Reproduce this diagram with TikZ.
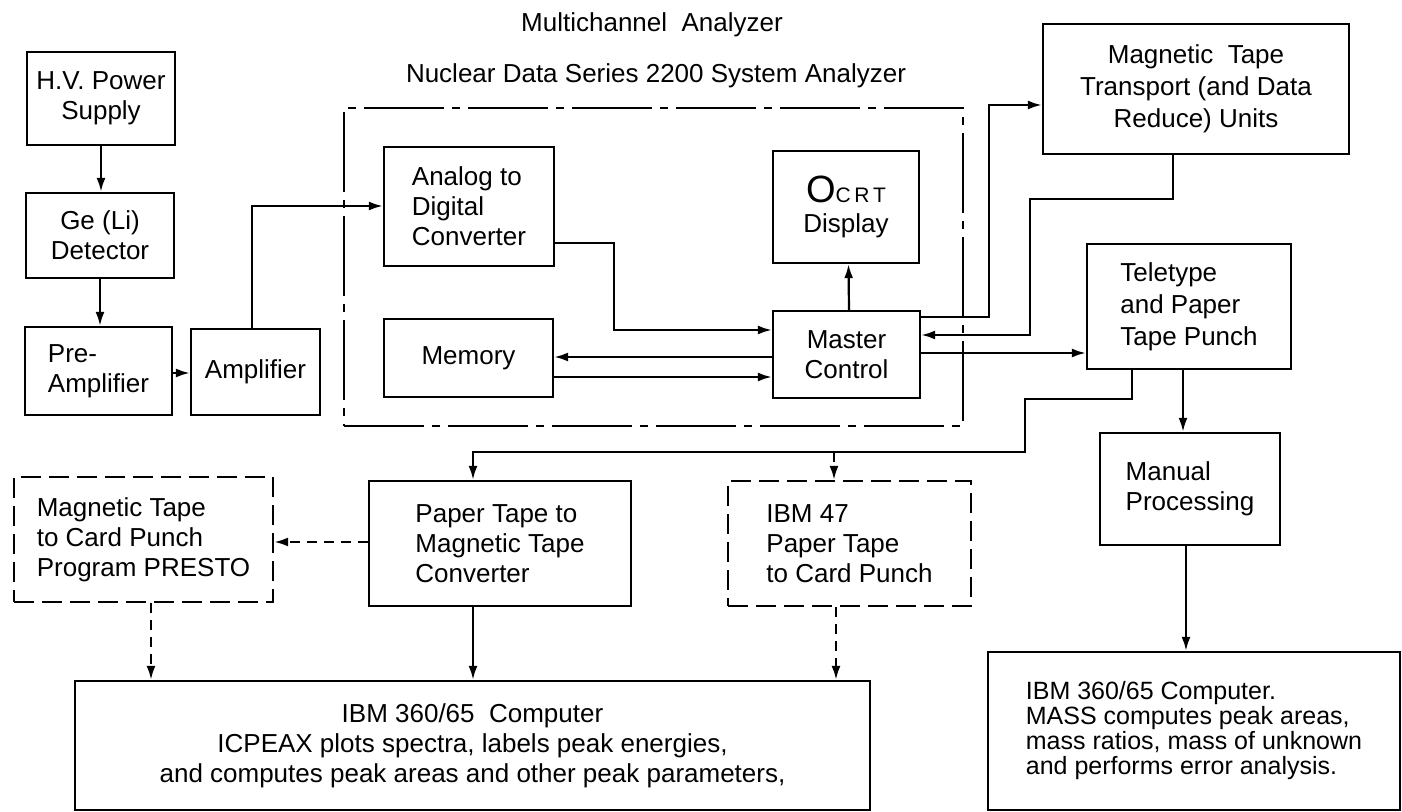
\documentclass[tikz,border=0pt]{standalone}
\usepackage{fontspec}
\setmainfont{Liberation Sans}
\usetikzlibrary{arrows.meta,calc}

\tikzset{
  blk/.style={draw, line width=1.2pt, align=center, inner sep=2pt},
  dbox/.style={blk, dash pattern=on 10pt off 4pt},
  sysframe/.style={draw, line width=1.2pt, dash pattern=on 40pt off 4pt on 4pt off 4pt},
  arr/.style={line width=1.1pt, -{Latex[length=7pt,width=4.5pt]}},
  darr/.style={arr, dash pattern=on 5pt off 3.5pt},
}

\begin{document}
\begin{tikzpicture}[x=0.5pt, y=-0.5pt, font=\fontsize{13}{15}\selectfont]
    \useasboundingbox (0,0) rectangle (1402,812);

    % Titles
    \node (title1) at (652,25) {Multichannel\ \ Analyzer};
    \node (title2) at (656,76) {Nuclear Data Series 2200 System Analyzer};

    % Detector chain
    \node[blk, minimum width=74pt, minimum height=46.5pt] (hv) at (101,98.5) {H.V. Power\\Supply};
    \node[blk, minimum width=74pt, minimum height=42.5pt] (ge) at (100,235.5) {Ge (Li)\\Detector};
    \node[blk, align=left, minimum width=73.5pt, minimum height=44pt] (pre) at (98.5,371) {Pre-\\Amplifier};
    \node[blk, minimum width=64.5pt, minimum height=43pt] (amp) at (255.5,372) {Amplifier};

    % System analyzer
    \node[sysframe, minimum width=309.5pt, minimum height=159pt] (sys) at (653.5,267) {};
    \node[blk, align=left, minimum width=85pt, minimum height=59.5pt] (adc) at (469,206.5) {Analog to\\Digital\\Converter};
    \node[blk, minimum width=84.5pt, minimum height=39pt] (mem) at (468.5,358) {Memory};
    \node[blk, minimum width=73pt, minimum height=56pt] (crt) at (846,207)
        {{\fontsize{19}{19}\selectfont O}{\fontsize{10.5}{12}\selectfont C\,R\,T}\\Display};
    \node[blk, minimum width=73.5pt, minimum height=43.5pt] (mc) at (846.5,354.5) {Master\\Control};

    % Output units
    \node[blk, minimum width=153pt, minimum height=65pt, font=\fontsize{13}{16}\selectfont] (mtt) at (1196,89)
        {Magnetic\ \ Tape\\Transport (and Data\\Reduce) Units};
    \node[blk, align=left, minimum width=102pt, minimum height=62.5pt, font=\fontsize{13}{16}\selectfont] (tty) at (1189,306.5)
        {Teletype\\and Paper\\Tape Punch};
    \node[blk, align=left, minimum width=90pt, minimum height=56pt] (man) at (1190,489) {Manual\\Processing};

    % Converters
    \node[dbox, align=left, minimum width=129.5pt, minimum height=62.5pt] (presto) at (143.5,539.5)
        {Magnetic Tape\\to Card Punch\\Program PRESTO};
    \node[blk, align=left, minimum width=131pt, minimum height=62.5pt] (ptc) at (500,543.5)
        {Paper Tape to\\Magnetic Tape\\Converter};
    \node[dbox, align=left, minimum width=121.5pt, minimum height=62.5pt] (ibm47) at (849.5,543.5)
        {IBM 47\\Paper Tape\\to Card Punch};

    % Computers
    \node[blk, minimum width=397.5pt, minimum height=64.5pt] (ibmA) at (472.5,745.5)
        {IBM 360/65\ \ Computer\\ICPEAX plots spectra, labels peak energies,\\and computes peak areas and other peak parameters,};
    \node[blk, align=left, minimum width=206pt, minimum height=79pt, font=\fontsize{12.5}{12.5}\selectfont] (ibmB) at (1194,731)
        {IBM 360/65 Computer.\\MASS computes peak areas,\\mass ratios, mass of unknown\\and performs error analysis.};

    % Signal path
    \draw[arr] (hv.south) -- (hv.south |- ge.north);
    \draw[arr] (ge.south) -- (ge.south |- pre.north);
    \draw[arr] ([yshift=-1pt]pre.east) coordinate (a1) -- (amp.west |- a1);
    \draw[arr] ([xshift=-1.75pt]amp.north) |- ([yshift=0.25pt]adc.west);
    \draw[arr] ([yshift=-18.25pt]adc.east) -- ++(59,0) |- ([yshift=12.25pt]mc.west);
    \draw[arr] ([yshift=-1.25pt]mc.west) coordinate (m1) -- (mem.east |- m1);
    \draw[arr] ([yshift=-9.5pt]mem.east) coordinate (m2) -- (mc.west |- m2);
    \draw[arr] ([xshift=1.25pt]mc.north) -- ([xshift=1.25pt]crt.south);

    % Master control links
    \draw[arr] ([yshift=18.75pt]mc.east) -- ++(68,0) |- ([yshift=-8pt]mtt.west);
    \draw[arr] ([xshift=-11.5pt]mtt.south) -- ++(0,44) -- ++(-143,0) |- ([yshift=9.75pt]mc.east);
    \draw[arr] ([yshift=0.75pt]mc.east) coordinate (m3) -- (tty.west |- m3);
    \draw[arr] ([xshift=-3pt]tty.south) coordinate (t1) -- (man.north -| t1);

    % Paper tape to converters
    \draw[arr] ([xshift=-28.5pt]tty.south) -- ++(0,29) -| ++(-107,53) coordinate (j) -| ([xshift=-13.5pt]ptc.north);
    \coordinate (i47) at ([xshift=-7.75pt]ibm47.north);
    \draw[darr] (i47 |- j) -- (i47);
    \draw[darr] ([yshift=0.75pt]ptc.west) coordinate (p1) -- (presto.east |- p1);

    % Into the computers
    \draw[darr] ([xshift=3.75pt]presto.south) coordinate (p2) -- (ibmA.north -| p2);
    \draw[arr] ([xshift=-13.5pt]ptc.south) coordinate (p3) -- (ibmA.north -| p3);
    \draw[darr] ([xshift=-6.75pt]ibm47.south) coordinate (p4) -- (ibmA.north -| p4);
    \draw[arr] ([xshift=-2pt]man.south) coordinate (p5) -- (ibmB.north -| p5);
\end{tikzpicture}
\end{document}
